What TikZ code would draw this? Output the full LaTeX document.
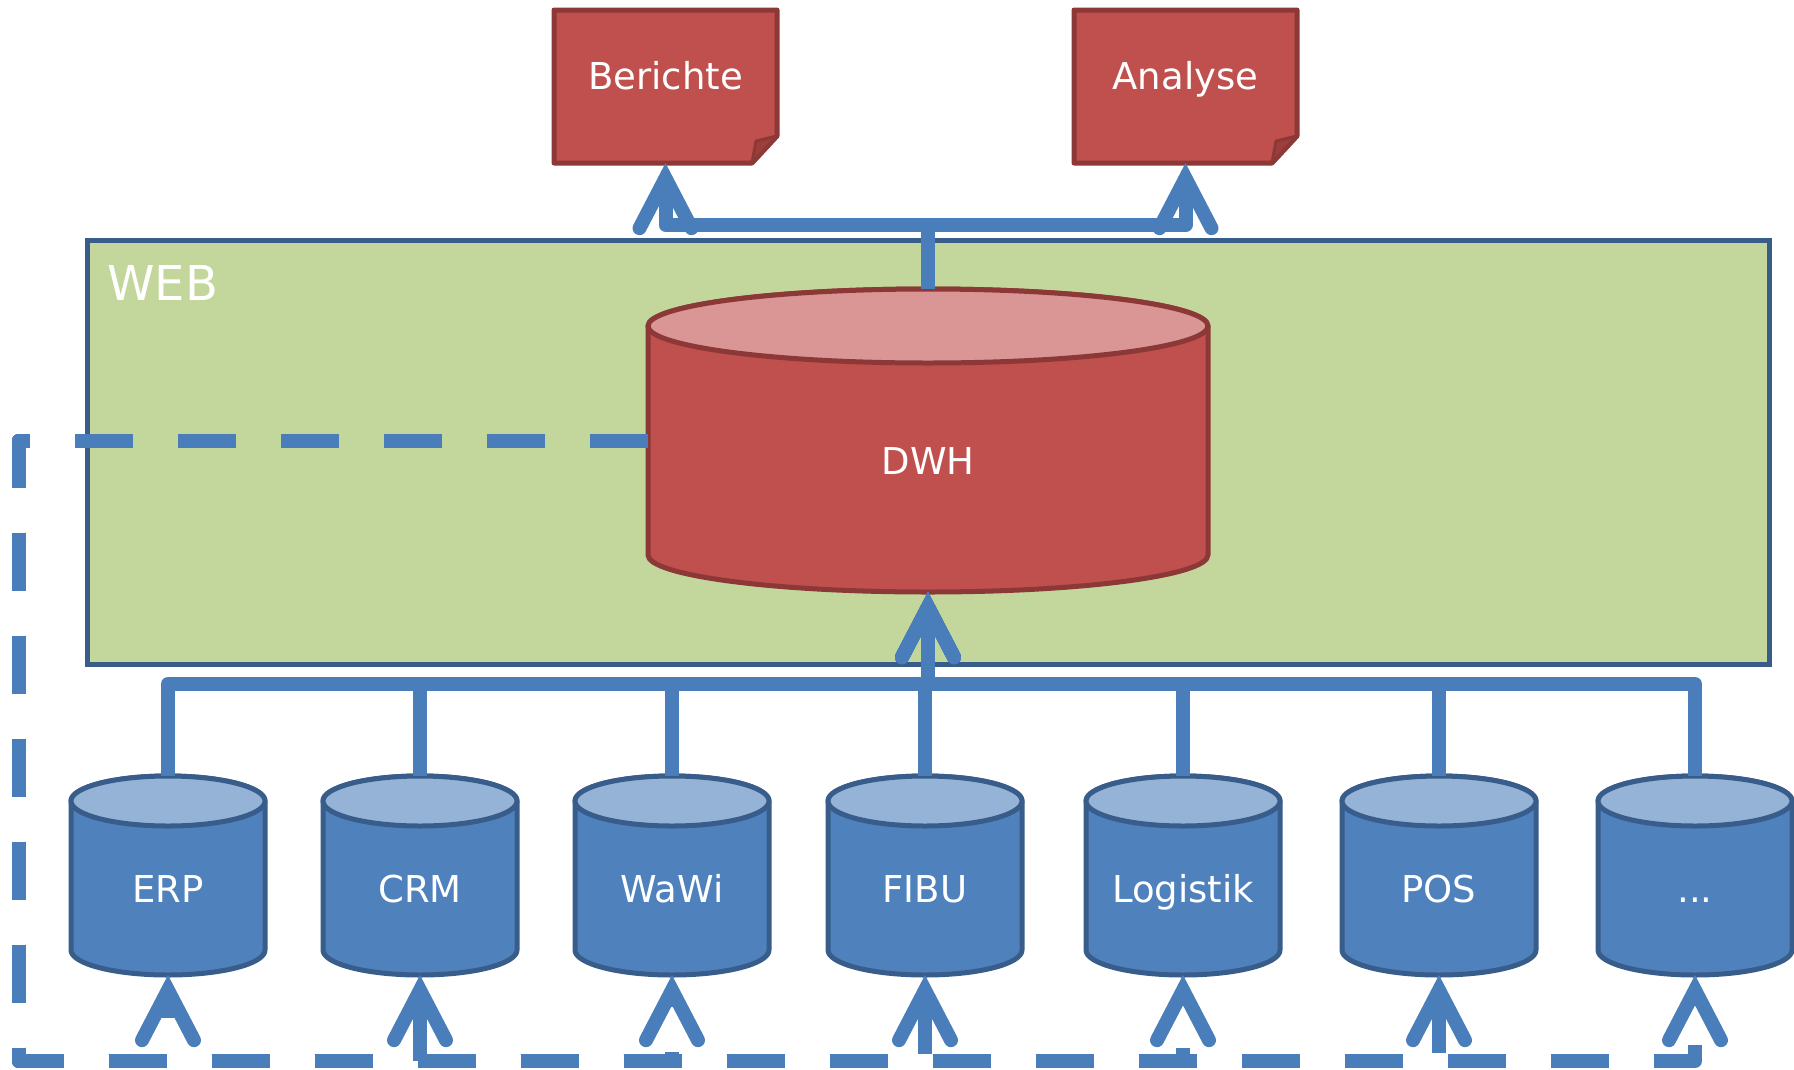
\documentclass[tikz,border=0pt]{standalone}
\usepackage{fontspec}
\setmainfont{DejaVu Sans}
\usetikzlibrary{arrows.meta}
\definecolor{conn}{HTML}{4A7EBB}
\definecolor{bfill}{HTML}{4F81BD}
\definecolor{btop}{HTML}{95B3D7}
\definecolor{bline}{HTML}{385D8A}
\definecolor{rfill}{HTML}{C0504D}
\definecolor{rtop}{HTML}{D99694}
\definecolor{rline}{HTML}{8C3836}
\definecolor{rfold}{HTML}{9A3F3C}
\definecolor{gfill}{HTML}{C3D69B}
\tikzset{
  connector/.style={draw=conn, line width=14pt, line join=round,
    -{Straight Barb[length=50pt, width=52pt, line cap=round]}},
  dashconn/.style={connector, line cap=butt, dash pattern=on 58pt off 45pt},
  lbl/.style={text=white, font=\fontsize{37}{44}\selectfont, inner sep=0pt, anchor=base},
  box/.style={draw=none, inner sep=0pt, outer sep=0pt, rectangle},
  shapeline/.style={line width=5pt, line join=round}
}
% #1 name, #2 cx, #3 top, #4 bottom, #5 rx, #6 ry, #7 fill, #8 top fill, #9 line
\newcommand\dbcyl[9]{%
  \path[shapeline, fill=#7, draw=#9] (#2-#5,-#3-#6) -- (#2-#5,-#4+#6)
    arc[start angle=180, end angle=360, x radius=#5, y radius=#6]
    -- (#2+#5,-#3-#6)
    arc[start angle=0, end angle=180, x radius=#5, y radius=#6] -- cycle;
  \path[shapeline, fill=#8, draw=#9] (#2,-#3-#6) ellipse[x radius=#5, y radius=#6];
  \node[box, minimum width=2*#5, minimum height=#4-#3] (#1) at (#2,{-(#3+#4)/2}) {};
}
% #1 name, #2 x1, #3 x2, #4 text
\newcommand\docshape[4]{%
  \path[shapeline, fill=rfill, draw=rline] (#2,-10) -- (#3,-10) -- (#3,-136)
    -- (#3-25,-163) -- (#2,-163) -- cycle;
  \path[line width=3pt, line join=round, fill=rfold, draw=rline] (#3,-136) -- (#3-21,-141) -- (#3-25,-163) -- cycle;
  \node[box, minimum width=#3-#2, minimum height=153] (#1) at ({(#2+#3)/2},-86.5) {};
  \node[lbl] (#1-t) at ({(#2+#3)/2},-89) {#4};
}
\begin{document}
\begin{tikzpicture}[x=1pt, y=1pt]
\useasboundingbox (0,0) rectangle (1794,-1069);

% WEB area
\node[box, draw=bline, line width=5pt, fill=gfill, minimum width=1682, minimum height=424] (web) at (928.5,-452) {};
\node[anchor=base west, inner sep=0pt, text=white, font=\fontsize{48}{56}\selectfont] (webl) at (107,-300) {WEB};

% documents
\docshape{ber}{554}{777}{Berichte}
\docshape{ana}{1074}{1297}{Analyse}

% DWH
\dbcyl{dwh}{928}{289}{592}{280}{37}{rfill}{rtop}{rline}
\node[lbl] (dwhl) at (928,-474) {DWH};

% sources
\dbcyl{erp}{168}{776}{975}{97}{25}{bfill}{btop}{bline}
\dbcyl{crm}{420}{776}{975}{97}{25}{bfill}{btop}{bline}
\dbcyl{wawi}{672}{776}{975}{97}{25}{bfill}{btop}{bline}
\dbcyl{fibu}{925}{776}{975}{97}{25}{bfill}{btop}{bline}
\dbcyl{log}{1183}{776}{975}{97}{25}{bfill}{btop}{bline}
\dbcyl{pos}{1439}{776}{975}{97}{25}{bfill}{btop}{bline}
\dbcyl{etc}{1695}{776}{975}{97}{25}{bfill}{btop}{bline}
\node[lbl] (erpl) at (168,-902) {ERP};
\node[lbl] (crml) at (420,-902) {CRM};
\node[lbl] (wawil) at (672,-902) {WaWi};
\node[lbl] (fibul) at (925,-902) {FIBU};
\node[lbl] (logl) at (1183,-902) {Logistik};
\node[lbl] (posl) at (1439,-902) {POS};
\node[lbl] (etcl) at (1695,-902) {...};

% top connectors
\coordinate (topbus) at (928,-225);
\draw[connector] (dwh.north) -- (topbus) -| (ber.south);
\draw[connector] (dwh.north) -- (topbus) -| (ana.south);

% bus connectors
\coordinate (bus) at (928,-684);
\foreach \n in {erp,crm,wawi,fibu,log,pos,etc}{
  \draw[connector] (\n.north) |- (bus) -- (dwh.south);
}

% dashed feedback connectors
\coordinate (dl) at (19,-440.5);
\coordinate (dbl) at (19,-1061);
\foreach \n in {erp,crm,wawi,fibu,log,pos,etc}{
  \draw[dashconn] (dwh.west) -- (dl) -- (dbl) -| (\n.south);
}
\end{tikzpicture}
\end{document}
